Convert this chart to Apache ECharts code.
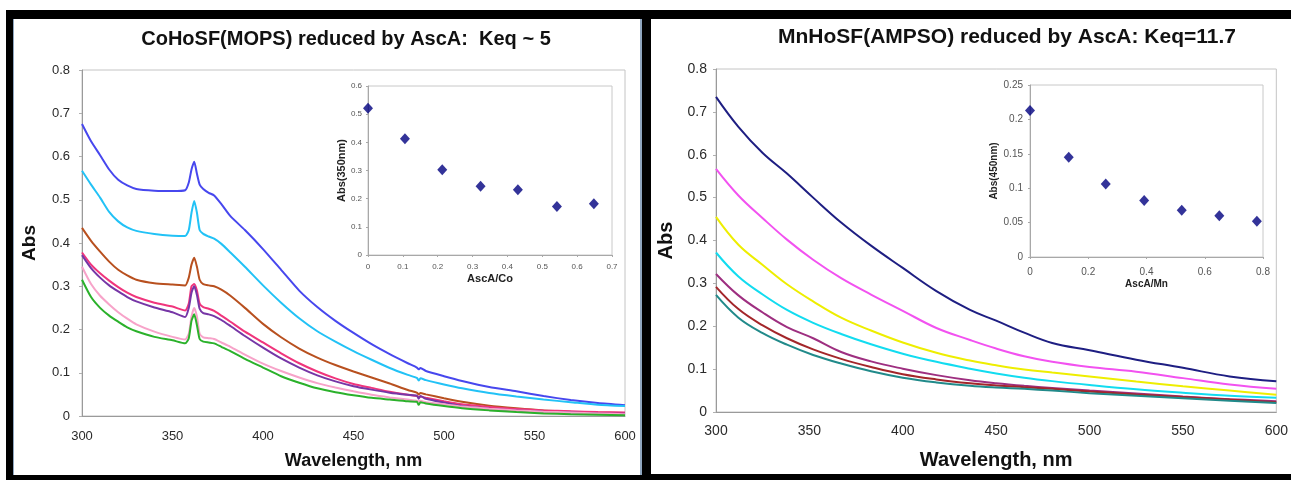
<!DOCTYPE html>
<html>
<head>
<meta charset="utf-8">
<script src="https://cdn.jsdelivr.net/npm/echarts@6/dist/echarts.min.js"></script>
<style>
html,body{margin:0;padding:0;background:#fff;}
#wrap{position:relative;width:1291px;height:480px;overflow:hidden;background:#fff;}
.blk{position:absolute;background:#000;}
.pnl{position:absolute;background:#fff;}
#chart{position:absolute;left:0;top:0;width:1291px;height:480px;}
</style>
</head>
<body>
<div id="wrap">
  <div class="blk" style="left:6px;top:10px;width:1285px;height:470px;"></div>
  <div class="pnl" style="left:13px;top:19px;width:629px;height:456px;border-left:1px solid #8fa6bf;border-right:2px solid #8fa6bf;box-sizing:border-box;"></div>
  <div class="pnl" style="left:651px;top:19px;width:640px;height:455px;"></div>
  <div id="chart"></div>
</div>
<script>
// ---------- Left panel: CoHoSF(MOPS) spectra ----------
const coWavelengths = [300,305,310,315,320,325,330,340,350,357,359,360.5,362,363.5,365,367,370,373,377,382,390,400,410,420,430,440,450,460,470,480,485,486,487,490,500,510,525,540,555,570,585,600];
const coBlue      = [.675,.635,.603,.570,.546,.533,.525,.521,.520,.522,.540,.570,.588,.560,.535,.525,.516,.510,.490,.462,.430,.386,.338,.290,.252,.220,.192,.166,.143,.122,.112,.108,.111,.104,.092,.081,.067,.057,.046,.037,.030,.025];
const coCyan      = [.567,.535,.505,.472,.450,.436,.428,.421,.417,.416,.430,.470,.497,.470,.430,.421,.415,.410,.398,.378,.345,.302,.262,.226,.196,.172,.150,.130,.111,.095,.088,.082,.087,.083,.073,.064,.053,.045,.038,.032,.026,.023];
const coBrown     = [.435,.405,.380,.357,.338,.325,.315,.307,.304,.302,.320,.350,.366,.345,.315,.305,.302,.300,.292,.278,.250,.213,.182,.156,.135,.118,.103,.089,.075,.060,.054,.050,.053,.050,.041,.033,.024,.018,.013,.010,.008,.007];
const coPink      = [.378,.350,.330,.313,.298,.285,.275,.262,.253,.244,.260,.300,.305,.290,.260,.252,.248,.243,.232,.218,.195,.170,.145,.122,.103,.087,.074,.065,.056,.049,.046,.044,.045,.042,.034,.027,.021,.016,.013,.011,.009,.008];
const coPurple    = [.372,.342,.320,.302,.288,.275,.265,.251,.240,.229,.250,.285,.300,.280,.248,.238,.235,.231,.222,.208,.185,.158,.133,.112,.094,.080,.069,.061,.054,.049,.047,.040,.046,.040,.031,.023,.017,.013,.010,.008,.006,.005];
const coLightPink = [.345,.305,.278,.258,.240,.225,.212,.195,.183,.177,.190,.230,.250,.230,.190,.182,.180,.178,.170,.160,.142,.121,.104,.089,.076,.066,.057,.049,.043,.038,.035,.034,.035,.032,.027,.022,.017,.013,.010,.008,.006,.004];
const coGreen     = [.315,.275,.250,.232,.218,.205,.196,.183,.175,.168,.180,.220,.235,.210,.178,.172,.170,.168,.160,.150,.132,.112,.092,.077,.064,.055,.048,.042,.038,.034,.033,.026,.032,.029,.023,.018,.013,.009,.006,.004,.003,.002];
const coSeriesNames  = ['0','1','2','3','4','5','6'];
const coSeriesValues = [coBlue, coCyan, coBrown, coPink, coPurple, coLightPink, coGreen];
const coColors = ['#4747ee','#22c2f6','#b8501f','#f0357c','#7636a6','#f7a3c9','#2bb12b'];

// inset: Abs(350nm) vs AscA/Co
const coInsetX = [0, 0.106, 0.213, 0.323, 0.430, 0.542, 0.648];
const coInsetY = [0.521, 0.413, 0.303, 0.244, 0.232, 0.172, 0.182];

// ---------- Right panel: MnHoSF(AMPSO) spectra ----------
const mnWavelengths = [300,312,325,338,352,367,383,400,418,436,450,465,480,500,525,550,575,600];
const mnNavy    = [.735,.665,.604,.556,.500,.442,.388,.336,.282,.238,.213,.185,.161,.144,.122,.103,.083,.072];
const mnMagenta = [.567,.505,.452,.402,.355,.312,.274,.236,.196,.168,.148,.130,.117,.105,.094,.079,.064,.054];
const mnYellow  = [.455,.390,.343,.298,.258,.220,.190,.162,.138,.120,.109,.099,.092,.083,.071,.060,.050,.040];
const mnCyan    = [.372,.316,.274,.238,.208,.182,.158,.136,.117,.101,.090,.080,.072,.063,.053,.045,.038,.033];
const mnPlum    = [.322,.272,.232,.198,.172,.140,.118,.101,.086,.074,.067,.061,.056,.050,.043,.036,.030,.025];
const mnRed     = [.292,.240,.202,.172,.146,.124,.105,.088,.076,.067,.062,.058,.054,.048,.041,.035,.029,.023];
const mnTeal    = [.273,.220,.184,.157,.133,.113,.095,.080,.069,.061,.057,.054,.050,.044,.038,.032,.026,.021];
const mnSeriesNames  = ['0','1','2','3','4','5','6'];
const mnSeriesValues = [mnNavy, mnMagenta, mnYellow, mnCyan, mnPlum, mnRed, mnTeal];
const mnColors = ['#1e1e82','#f252f0','#eeee00','#12dcf0','#9e2f80','#a3262a','#218a8a'];

// inset: Abs(450nm) vs AscA/Mn
const mnInsetX = [0, 0.133, 0.260, 0.392, 0.521, 0.650, 0.779];
const mnInsetY = [0.213, 0.145, 0.106, 0.082, 0.068, 0.060, 0.052];

// tick settings
const mainXTicks = {min:300, max:600, interval:50};
const mainYTicks = {min:0, max:0.8, interval:0.1};

const FONT = 'Liberation Sans, Arial, sans-serif';
const zip = (xs, ys) => xs.map((x, i) => [x, ys[i]]);

const chart = echarts.init(document.getElementById('chart'), null, {renderer:'canvas'});

function mainAxisX(idx, fs, margin, nameSize, nameGap){
  return {gridIndex:idx, type:'value', min:mainXTicks.min, max:mainXTicks.max, interval:mainXTicks.interval,
    name:'Wavelength, nm', nameLocation:'middle', nameGap:nameGap,
    nameTextStyle:{fontFamily:FONT, fontWeight:'bold', fontSize:nameSize, color:'#111'},
    axisLine:{lineStyle:{color:'#9a9a9a', width:1}},
    axisTick:{show:false},
    axisLabel:{fontFamily:FONT, fontSize:fs, color:'#2a2a2a', margin:margin},
    splitLine:{show:false}};
}
function mainAxisY(idx, fs, margin, nameSize, nameGap){
  return {gridIndex:idx, type:'value', min:mainYTicks.min, max:mainYTicks.max, interval:mainYTicks.interval,
    name:'Abs', nameLocation:'middle', nameGap:nameGap, nameRotate:90,
    nameTextStyle:{fontFamily:FONT, fontWeight:'bold', fontSize:nameSize, color:'#111'},
    axisLine:{show:true, lineStyle:{color:'#9a9a9a', width:1}},
    axisTick:{show:true, length:3, lineStyle:{color:'#b0b0b0'}},
    axisLabel:{fontFamily:FONT, fontSize:fs, color:'#2a2a2a', margin:margin},
    splitLine:{show:false}};
}
function insetAxis(idx, min, max, interval, name, fs, margin, nameSize, nameGap, isY){
  const a = {gridIndex:idx, type:'value', min:min, max:max, interval:interval,
    name:name, nameLocation:'middle', nameGap:nameGap,
    nameTextStyle:{fontFamily:FONT, fontWeight:'bold', fontSize:nameSize, color:'#222'},
    axisLine:{show:true, lineStyle:{color:'#a8a8a8', width:1}},
    axisTick:{show:true, length:2, lineStyle:{color:'#a8a8a8'}},
    axisLabel:{fontFamily:FONT, fontSize:fs, color:'#555', margin:margin},
    splitLine:{show:false}};
  if (isY) a.nameRotate = 90;
  return a;
}

const series = [];
coSeriesValues.forEach((vals, i) => {
  series.push({type:'line', name:'Co '+coSeriesNames[i], xAxisIndex:0, yAxisIndex:0, data:zip(coWavelengths, vals),
    showSymbol:false, smooth:0.2, lineStyle:{color:coColors[i], width:2}, itemStyle:{color:coColors[i]}, z:2+i, silent:true});
});
series.push({type:'scatter', name:'Co inset', xAxisIndex:1, yAxisIndex:1, data:zip(coInsetX, coInsetY),
  symbol:'diamond', symbolSize:[10,11], itemStyle:{color:'#000080'}, z:10});
mnSeriesValues.forEach((vals, i) => {
  series.push({type:'line', name:'Mn '+mnSeriesNames[i], xAxisIndex:2, yAxisIndex:2, data:zip(mnWavelengths, vals),
    showSymbol:false, smooth:0.4, lineStyle:{color:mnColors[i], width:2}, itemStyle:{color:mnColors[i]}, z:2+i, silent:true});
});
series.push({type:'scatter', name:'Mn inset', xAxisIndex:3, yAxisIndex:3, data:zip(mnInsetX, mnInsetY),
  symbol:'diamond', symbolSize:[10,11], itemStyle:{color:'#000080'}, z:10});

chart.setOption({
  backgroundColor:'transparent',
  animation:false,
  title:[
    {text:'CoHoSF(MOPS) reduced by AscA:  Keq ~ 5', left:346, top:29, textAlign:'center', padding:0,
     textStyle:{fontFamily:FONT, fontWeight:'bold', fontSize:20, color:'#111'}},
    {text:'MnHoSF(AMPSO) reduced by AscA: Keq=11.7', left:1007, top:27, textAlign:'center', padding:0,
     textStyle:{fontFamily:FONT, fontWeight:'bold', fontSize:21, color:'#111'}}
  ],
  grid:[
    {left:82, top:70, width:543, height:346, show:true, borderColor:'#c4c4c4', borderWidth:1, backgroundColor:'transparent'},
    {left:368, top:86, width:244, height:169, show:true, borderColor:'#c8c8c8', borderWidth:1, backgroundColor:'transparent'},
    {left:716, top:69, width:564, height:343, show:true, borderColor:'#c4c4c4', borderWidth:1, backgroundColor:'transparent'},
    {left:1030, top:85, width:233, height:172, show:true, borderColor:'#c8c8c8', borderWidth:1, backgroundColor:'transparent'}
  ],
  xAxis:[
    mainAxisX(0, 13, 14, 18, 36),
    insetAxis(1, 0, 0.7, 0.1, 'AscA/Co', 8, 8, 11, 18, false),
    mainAxisX(2, 14, 12, 20, 38),
    insetAxis(3, 0, 0.8, 0.2, 'AscA/Mn', 10, 10, 10, 22, false)
  ],
  yAxis:[
    mainAxisY(0, 13, 12, 19, 43),
    insetAxis(1, 0, 0.6, 0.1, 'Abs(350nm)', 8, 6, 11, 21, true),
    mainAxisY(2, 14, 9, 20, 40),
    insetAxis(3, 0, 0.25, 0.05, 'Abs(450nm)', 10, 7, 10, 30, true)
  ],
  series:series
});
</script>
</body>
</html>
